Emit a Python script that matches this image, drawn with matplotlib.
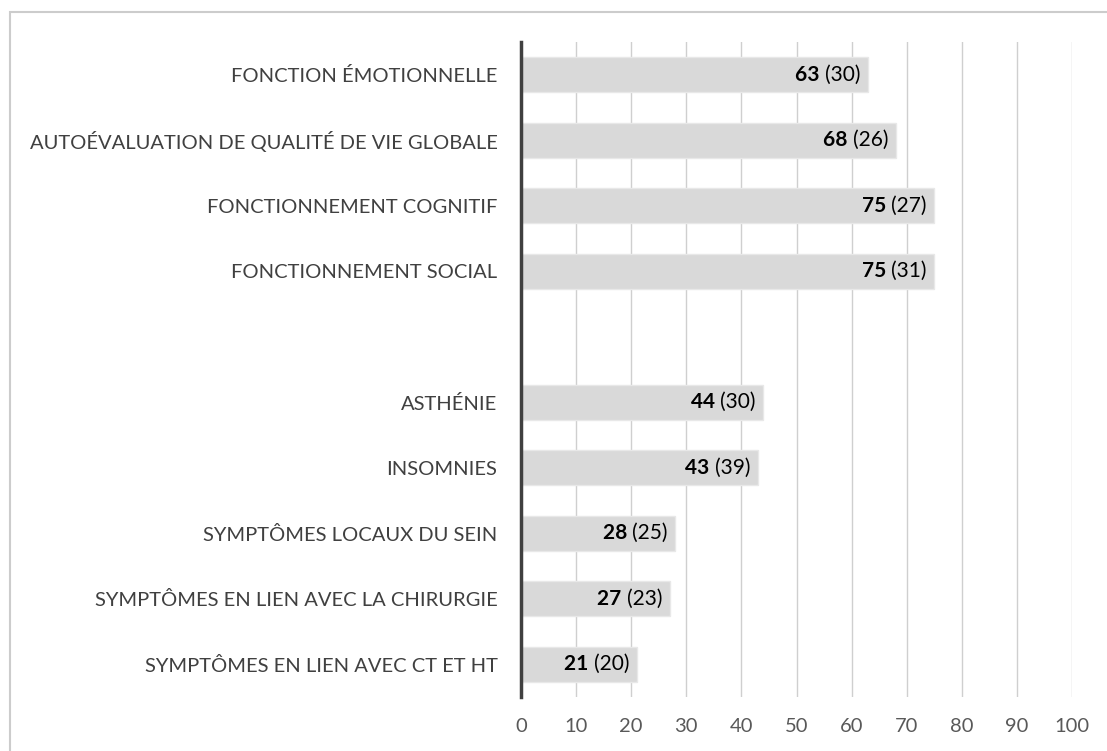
import matplotlib.pyplot as plt
from matplotlib.patches import Rectangle

plt.rcParams['font.family'] = ['Lato', 'DejaVu Sans']

# scores moyens (écart-type) - fonctions puis symptômes
fonctions = ["FONCTION ÉMOTIONNELLE", "AUTOÉVALUATION DE QUALITÉ DE VIE GLOBALE",
             "FONCTIONNEMENT COGNITIF", "FONCTIONNEMENT SOCIAL"]
fonctions_moy = [63, 68, 75, 75]
fonctions_et = [30, 26, 27, 31]

symptomes = ["ASTHÉNIE", "INSOMNIES", "SYMPTÔMES LOCAUX DU SEIN",
             "SYMPTÔMES EN LIEN AVEC LA CHIRURGIE", "SYMPTÔMES EN LIEN AVEC CT ET HT"]
symptomes_moy = [44, 43, 28, 27, 21]
symptomes_et = [30, 39, 25, 23, 20]

xticks = [0, 10, 20, 30, 40, 50, 60, 70, 80, 90, 100]

labels = fonctions + symptomes
moy = fonctions_moy + symptomes_moy
et = fonctions_et + symptomes_et
# une ligne vide entre les deux groupes
pos = list(range(len(fonctions))) + [len(fonctions) + 1 + i for i in range(len(symptomes))]

fig = plt.figure(figsize=(11.07, 7.51), dpi=100)
ax = fig.add_axes([521 / 1107, 1 - 697 / 751, (1072 - 521) / 1107, (697 - 42) / 751])

ax.barh(pos, moy, height=0.535, color='#d9d9d9', edgecolor='#e8e8e8', linewidth=1, zorder=2)

for p, m, s in zip(pos, moy, et):
    t = ax.annotate(f"({s})", xy=(m, p), xytext=(-5.5, 0), textcoords='offset points',
                    ha='right', va='center', fontsize=15, color='#000000', zorder=3)
    ax.annotate(f"{m} ", xy=(0, 0.5), xycoords=t, ha='right', va='center',
                fontsize=15, fontweight='bold', color='#000000', zorder=3)

ax.set_ylim(9.5, -0.5)
ax.set_xlim(0, 100)
ax.set_yticks(pos)
ax.set_yticklabels(labels, fontsize=14.5, color='#404040')
ax.set_xticks(xticks)
ax.set_xticklabels([str(x) for x in xticks], fontsize=14.5, color='#595959')
ax.tick_params(axis='y', length=0, pad=17)
ax.tick_params(axis='x', length=0, pad=15)

ax.grid(axis='x', color='#cfcfcf', linewidth=1, zorder=0)
ax.set_axisbelow(True)
for side in ['top', 'right', 'bottom']:
    ax.spines[side].set_visible(False)
ax.spines['left'].set_color('#404040')
ax.spines['left'].set_linewidth(2.5)
ax.spines['left'].set_zorder(4)

fig.patches.append(Rectangle((10 / 1107, -0.05), 1.1, 1.05 - 12 / 751, transform=fig.transFigure,
                             fill=False, edgecolor='#cccccc', linewidth=1.5))

fig.savefig("out.png", dpi=100)
